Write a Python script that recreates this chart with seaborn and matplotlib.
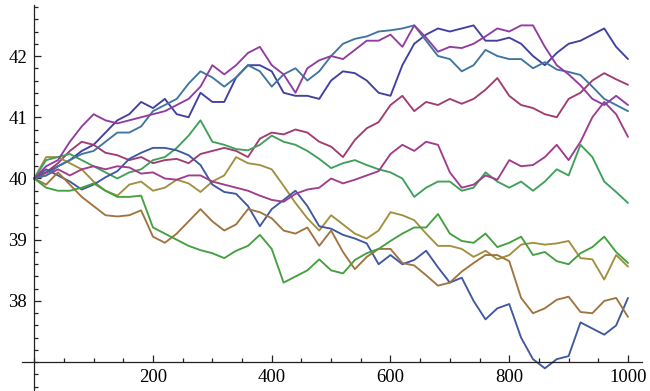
import numpy as np
import pandas as pd
import matplotlib
matplotlib.use("Agg")
import matplotlib.pyplot as plt
from matplotlib.ticker import MultipleLocator, FixedLocator
import seaborn as sns

steps = list(range(0, 1001, 20))

indigo = [40.0, 40.1, 40.2, 40.3, 40.45, 40.55, 40.75, 40.95, 41.05, 41.25, 41.15, 41.3, 41.05, 41.0, 41.4,
          41.25, 41.25, 41.65, 41.85, 41.85, 41.75, 41.4, 41.35, 41.35, 41.3, 41.6, 41.75, 41.72, 41.6, 41.4,
          41.35, 41.85, 42.2, 42.35, 42.45, 42.4, 42.45, 42.5, 42.25, 42.25, 42.3, 42.2, 42.0, 41.85, 42.05,
          42.2, 42.25, 42.35, 42.45, 42.15, 41.95]
wine = [40.0, 40.1, 40.25, 40.45, 40.6, 40.55, 40.42, 40.38, 40.3, 40.35, 40.25, 40.3, 40.32, 40.25, 40.4,
        40.45, 40.5, 40.45, 40.35, 40.65, 40.75, 40.72, 40.8, 40.75, 40.6, 40.52, 40.35, 40.63, 40.82, 40.92,
        41.2, 41.35, 41.1, 41.25, 41.2, 41.3, 41.22, 41.3, 41.45, 41.64, 41.35, 41.2, 41.15, 41.05, 41.0,
        41.3, 41.4, 41.6, 41.72, 41.62, 41.53]
olive = [40.0, 40.35, 40.35, 40.25, 40.15, 39.95, 39.8, 39.72, 39.9, 39.95, 39.8, 39.85, 39.98, 39.92, 39.78,
         39.95, 40.05, 40.35, 40.25, 40.22, 40.15, 39.88, 39.6, 39.35, 39.15, 39.4, 39.25, 39.1, 39.02, 39.15,
         39.45, 39.4, 39.32, 39.1, 38.9, 38.9, 38.85, 38.72, 38.82, 38.68, 38.75, 38.92, 38.95, 38.92, 38.94,
         38.98, 38.7, 38.68, 38.35, 38.75, 38.56]
midgreen = [40.0, 40.3, 40.35, 40.4, 40.3, 40.2, 40.1, 40.0, 40.1, 40.15, 40.3, 40.35, 40.5, 40.7, 40.95,
            40.6, 40.55, 40.48, 40.46, 40.55, 40.7, 40.6, 40.55, 40.45, 40.32, 40.17, 40.25, 40.3, 40.22, 40.15,
            40.1, 40.0, 39.7, 39.85, 39.95, 39.95, 39.8, 39.85, 40.1, 39.95, 39.85, 39.95, 39.8, 39.95, 40.15,
            40.05, 40.55, 40.35, 39.95, 39.78, 39.6]
blue = [40.0, 40.15, 40.05, 39.95, 39.82, 39.9, 40.02, 40.12, 40.32, 40.42, 40.5, 40.5, 40.46, 40.38, 40.22,
        39.9, 39.78, 39.75, 39.55, 39.22, 39.5, 39.65, 39.8, 39.55, 39.22, 39.18, 39.08, 39.02, 38.94, 38.6,
        38.75, 38.6, 38.67, 38.82, 38.55, 38.3, 38.38, 38.0, 37.7, 37.88, 37.95, 37.4, 37.05, 36.9, 37.05,
        37.1, 37.65, 37.55, 37.45, 37.6, 38.05]
magenta = [40.0, 40.05, 40.15, 40.05, 40.15, 40.2, 40.15, 40.2, 40.18, 40.08, 40.1, 40.0, 39.98, 40.05, 40.05,
           39.95, 39.9, 39.85, 39.8, 39.72, 39.65, 39.62, 39.75, 39.82, 39.85, 40.0, 39.92, 39.98, 40.05, 40.12,
           40.4, 40.55, 40.45, 40.6, 40.55, 40.1, 39.85, 39.9, 40.05, 39.98, 40.3, 40.2, 40.22, 40.35, 40.55,
           40.3, 40.6, 41.0, 41.25, 41.05, 40.68]
brown = [40.0, 39.9, 40.1, 39.9, 39.7, 39.55, 39.4, 39.38, 39.4, 39.48, 39.05, 38.95, 39.1, 39.3, 39.5,
         39.3, 39.15, 39.25, 39.5, 39.45, 39.35, 39.15, 39.1, 39.2, 38.9, 39.15, 38.8, 38.52, 38.72, 38.85,
         38.85, 38.62, 38.58, 38.42, 38.25, 38.3, 38.48, 38.62, 38.75, 38.75, 38.65, 38.05, 37.8, 37.88, 38.02,
         38.07, 37.82, 37.8, 38.0, 38.05, 37.74]
green = [40.0, 39.85, 39.8, 39.8, 39.85, 39.92, 39.8, 39.7, 39.7, 39.72, 39.2, 39.1, 39.0, 38.9, 38.83,
         38.78, 38.7, 38.82, 38.9, 39.08, 38.85, 38.3, 38.4, 38.5, 38.68, 38.5, 38.45, 38.67, 38.78, 38.85,
         38.98, 39.1, 39.2, 39.2, 39.42, 39.1, 38.98, 38.95, 39.1, 38.88, 38.95, 39.05, 38.75, 38.8, 38.65,
         38.6, 38.78, 38.88, 39.05, 38.8, 38.62]
teal = [40.0, 40.05, 40.2, 40.3, 40.4, 40.45, 40.6, 40.75, 40.75, 40.85, 41.1, 41.2, 41.3, 41.55, 41.75,
        41.65, 41.5, 41.65, 41.85, 41.75, 41.5, 41.7, 41.8, 41.6, 41.75, 42.0, 42.2, 42.28, 42.32, 42.4,
        42.42, 42.45, 42.5, 42.25, 42.0, 41.95, 41.75, 41.85, 42.1, 42.0, 41.95, 41.95, 41.8, 41.9, 41.78,
        41.74, 41.69, 41.5, 41.3, 41.2, 41.1]
purple = [40.0, 40.2, 40.3, 40.6, 40.85, 41.05, 40.95, 40.9, 40.95, 41.0, 41.05, 41.1, 41.2, 41.3, 41.5,
          41.85, 41.7, 41.85, 42.05, 42.15, 41.85, 41.7, 41.4, 41.8, 41.93, 42.0, 41.95, 42.1, 42.25, 42.25,
          42.35, 42.15, 42.5, 42.3, 42.07, 42.15, 42.13, 42.2, 42.32, 42.45, 42.4, 42.5, 42.5, 42.15, 41.85,
          41.7, 41.52, 41.3, 41.2, 41.35, 41.2]

series_names = ["s1", "s2", "s3", "s4", "s5", "s6", "s7", "s8", "s9", "s10"]
series_values = [indigo, wine, olive, midgreen, blue, magenta, brown, green, teal, purple]
colors = ["#4040a0", "#a03c72", "#a09040", "#3fa05a", "#3f58a0", "#a03c8e", "#a07440", "#44a040",
          "#3f75a0", "#923ca0"]

x_major = [200, 400, 600, 800, 1000]
y_major = [38, 39, 40, 41, 42]

df = pd.concat([pd.DataFrame({"step": steps, "value": v, "series": n})
                for n, v in zip(series_names, series_values)], ignore_index=True)

sns.set_theme(style="white")
plt.rcParams["font.family"] = ["Liberation Serif", "DejaVu Serif"]

fig = plt.figure(figsize=(6.5, 3.91), dpi=100)
ax = fig.add_axes([22 / 650, 0.0, 620 / 650, 386 / 391])

sns.lineplot(data=df, x="step", y="value", hue="series", palette=dict(zip(series_names, colors)),
             estimator=None, sort=False, legend=False, linewidth=1.35, ax=ax)

ax.set_xlim(-20.6, 1023.6)
ax.set_ylim(36.53, 42.833)
ax.set_xlabel("")
ax.set_ylabel("")

for s in ["top", "right"]:
    ax.spines[s].set_visible(False)
ax.spines["left"].set_position(("data", 0))
ax.spines["bottom"].set_position(("data", 37))
for s in ["left", "bottom"]:
    ax.spines[s].set_color("#222222")
    ax.spines[s].set_linewidth(0.9)

ax.xaxis.set_major_locator(FixedLocator(x_major))
ax.xaxis.set_minor_locator(MultipleLocator(50))
ax.yaxis.set_major_locator(FixedLocator(y_major))
ax.yaxis.set_minor_locator(MultipleLocator(0.2))
ax.tick_params(which="both", direction="in", color="#222222", width=0.9, labelsize=13.5,
               labelcolor="black", bottom=True, left=True)
ax.tick_params(which="major", length=5.2)
ax.tick_params(which="minor", length=3.2)
ax.tick_params(axis="x", pad=5)
ax.tick_params(axis="y", pad=5)
ax.set_xticklabels([str(v) for v in x_major])
ax.set_yticklabels([str(v) for v in y_major])

fig.savefig("out.png", dpi=100)
